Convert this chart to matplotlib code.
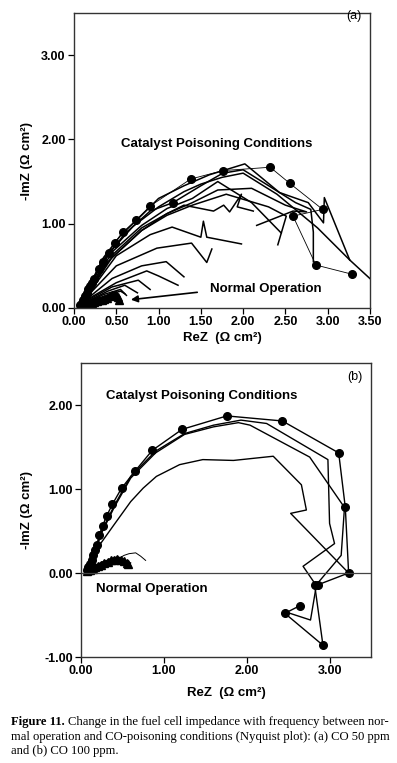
import matplotlib
matplotlib.use("Agg")
import matplotlib.pyplot as plt

# --- panel (a): CO 50 ppm ---
a_dots_x = [0.07, 0.09, 0.11, 0.13, 0.15, 0.17, 0.19, 0.21, 0.24, 0.29, 0.34, 0.41, 0.48, 0.58,
            0.73, 0.90, 1.38, 1.76, 2.32, 2.55, 2.94, 2.59, 2.86, 3.29]
a_dots_y = [0.04, 0.06, 0.10, 0.14, 0.18, 0.22, 0.26, 0.30, 0.35, 0.46, 0.55, 0.65, 0.77, 0.90,
            1.04, 1.21, 1.53, 1.63, 1.67, 1.48, 1.17, 1.09, 0.51, 0.40]

a_c1_x = [0.12, 0.20, 0.35, 0.55, 0.80, 1.00, 1.30, 1.60, 2.02, 2.43, 2.77, 2.95, 2.96, 3.26, 3.52]
a_c1_y = [0.10, 0.30, 0.60, 0.86, 1.10, 1.30, 1.45, 1.58, 1.71, 1.37, 1.25, 1.01, 1.31, 0.57, 0.33]
a_c2_x = [0.12, 0.30, 0.60, 0.90, 1.17, 1.50, 1.76, 2.00, 2.35, 2.62, 2.80, 2.83, 2.83]
a_c2_y = [0.10, 0.50, 0.88, 1.15, 1.25, 1.45, 1.60, 1.64, 1.42, 1.25, 1.17, 0.90, 0.55]
a_c3_x = [0.12, 0.35, 0.70, 1.00, 1.30, 1.50, 1.75, 2.00, 2.40, 2.88, 3.26]
a_c3_y = [0.10, 0.58, 0.97, 1.20, 1.38, 1.47, 1.55, 1.60, 1.35, 0.95, 0.57]
a_c4_x = [0.12, 0.40, 0.80, 1.10, 1.40, 1.70, 2.10, 2.45]
a_c4_y = [0.10, 0.62, 0.98, 1.18, 1.30, 1.50, 1.25, 0.89]
a_c5_x = [0.12, 0.40, 0.80, 1.10, 1.40, 1.70, 2.10, 2.50, 2.75, 2.59, 2.16]
a_c5_y = [0.10, 0.58, 0.95, 1.12, 1.25, 1.40, 1.42, 1.22, 1.14, 1.15, 0.98]
a_c6_x = [0.12, 0.45, 0.80, 1.10, 1.40, 1.80, 2.30, 2.51, 2.41]
a_c6_y = [0.10, 0.60, 0.92, 1.10, 1.22, 1.35, 1.20, 1.09, 0.75]
a_c7_x = [0.12, 0.40, 0.80, 1.10, 1.30, 1.65, 1.77, 1.84, 1.98, 1.93, 2.12]
a_c7_y = [0.10, 0.55, 0.92, 1.12, 1.22, 1.15, 1.22, 1.14, 1.35, 1.20, 1.15]
a_c8_x = [0.12, 0.50, 0.90, 1.16, 1.50, 1.53, 1.57, 1.98]
a_c8_y = [0.10, 0.62, 0.87, 0.96, 0.84, 1.03, 0.84, 0.76]
a_c9_x = [0.12, 0.50, 0.98, 1.39, 1.57, 1.63]
a_c9_y = [0.10, 0.50, 0.71, 0.77, 0.54, 0.70]
a_c10_x = [0.12, 0.45, 0.80, 1.09, 1.30]
a_c10_y = [0.08, 0.35, 0.50, 0.55, 0.37]
a_c11_x = [0.12, 0.50, 0.86, 1.00, 1.23]
a_c11_y = [0.08, 0.30, 0.44, 0.38, 0.27]
a_c12_x = [0.12, 0.45, 0.76, 0.90]
a_c12_y = [0.07, 0.25, 0.33, 0.22]
a_c13_x = [0.12, 0.40, 0.60, 0.75]
a_c13_y = [0.06, 0.20, 0.27, 0.18]
a_c14_x = [0.12, 0.35, 0.55, 0.62]
a_c14_y = [0.05, 0.16, 0.22, 0.15]

a_norm_x = [0.07, 0.08, 0.10, 0.12, 0.15, 0.18, 0.21, 0.24, 0.27, 0.30, 0.33, 0.36, 0.39,
            0.42, 0.45, 0.48, 0.50, 0.52, 0.53]
a_norm_y = [0.01, 0.02, 0.02, 0.03, 0.04, 0.05, 0.06, 0.07, 0.08, 0.09, 0.10, 0.11, 0.12,
            0.14, 0.15, 0.16, 0.15, 0.13, 0.10]
a_norm2_x = [0.12, 0.30, 0.45, 0.55, 0.60]
a_norm2_y = [0.05, 0.12, 0.17, 0.20, 0.17]

# --- panel (b): CO 100 ppm ---
b_dots_x = [0.07, 0.09, 0.11, 0.13, 0.15, 0.17, 0.19, 0.22, 0.26, 0.31, 0.38, 0.49, 0.65, 0.86,
            1.22, 1.76, 2.43, 3.11, 3.19, 3.23, 2.86, 2.82, 2.92, 2.46, 2.64]
b_dots_y = [0.04, 0.07, 0.11, 0.16, 0.21, 0.27, 0.33, 0.45, 0.56, 0.68, 0.82, 1.01, 1.21, 1.46,
            1.71, 1.87, 1.81, 1.43, 0.78, 0.00, -0.14, -0.14, -0.86, -0.48, -0.39]

b_c1_x = [0.08, 0.15, 0.25, 0.40, 0.60, 0.90, 1.25, 1.60, 1.93, 2.24, 2.98, 3.00, 3.06, 2.68,
          2.84, 2.77, 2.46]
b_c1_y = [0.03, 0.20, 0.50, 0.80, 1.15, 1.45, 1.66, 1.76, 1.82, 1.78, 1.35, 0.59, 0.35, 0.08,
          -0.15, -0.56, -0.46]
b_c2_x = [0.08, 0.15, 0.25, 0.40, 0.60, 0.90, 1.25, 1.60, 1.90, 2.04, 2.76, 3.18, 3.14, 2.84]
b_c2_y = [0.03, 0.20, 0.48, 0.78, 1.13, 1.43, 1.65, 1.74, 1.79, 1.76, 1.38, 0.78, 0.21, -0.14]
b_c3_x = [0.08, 0.20, 0.41, 0.60, 0.75, 0.91, 1.19, 1.47, 1.84, 2.32, 2.66, 2.72, 2.53, 3.23]
b_c3_y = [0.03, 0.30, 0.59, 0.85, 1.01, 1.15, 1.29, 1.35, 1.34, 1.39, 1.05, 0.75, 0.71, 0.00]

b_norm_x = [0.07, 0.09, 0.11, 0.14, 0.17, 0.20, 0.24, 0.28, 0.32, 0.36, 0.40, 0.44, 0.48,
            0.52, 0.55, 0.57]
b_norm_y = [0.02, 0.03, 0.04, 0.05, 0.07, 0.08, 0.10, 0.12, 0.13, 0.15, 0.16, 0.17, 0.16,
            0.14, 0.12, 0.11]
b_tail_x = [0.45, 0.52, 0.58, 0.66, 0.72, 0.78]
b_tail_y = [0.17, 0.21, 0.23, 0.24, 0.20, 0.15]

SANS = ["Liberation Sans", "DejaVu Sans"]
SERIF = ["Liberation Serif", "DejaVu Serif"]
plt.rcParams["font.family"] = SANS


def style_axes(ax, xticks, yticks, xlim, ylim):
    ax.set_xlim(*xlim)
    ax.set_ylim(*ylim)
    ax.set_xticks(xticks)
    ax.set_yticks(yticks)
    ax.set_xticklabels([f"{v:.2f}" for v in xticks], fontweight="bold", fontsize=9)
    ax.set_yticklabels([f"{v:.2f}" for v in yticks], fontweight="bold", fontsize=9)
    ax.tick_params(direction="out", length=4, width=0.9, pad=2)
    for s in ax.spines.values():
        s.set_linewidth(1.0)
        s.set_color("#333333")
    ax.set_xlabel("ReZ  (Ω cm²)", fontweight="bold", fontsize=9.5)
    ax.set_ylabel("-ImZ (Ω cm²)", fontweight="bold", fontsize=9.5)


fig = plt.figure(figsize=(3.97, 7.63), dpi=100)
ax1 = fig.add_axes([74 / 397, 1 - 308 / 763, 296 / 397, 295 / 763])
ax2 = fig.add_axes([81 / 397, 1 - 657 / 763, 290 / 397, 294 / 763])

# panel (a)
for cx, cy in [(a_c1_x, a_c1_y), (a_c3_x, a_c3_y), (a_c4_x, a_c4_y), (a_c5_x, a_c5_y),
               (a_c6_x, a_c6_y), (a_c7_x, a_c7_y), (a_c8_x, a_c8_y), (a_c9_x, a_c9_y),
               (a_c10_x, a_c10_y), (a_c11_x, a_c11_y), (a_c12_x, a_c12_y),
               (a_c13_x, a_c13_y), (a_c14_x, a_c14_y), (a_norm2_x, a_norm2_y)]:
    ax1.plot(cx, cy, color="k", lw=1.1)
ax1.plot(a_c2_x, a_c2_y, color="k", lw=1.1, marker="o", ms=5.5, markevery=[4])
ax1.plot(a_dots_x, a_dots_y, color="k", lw=0.6, marker="o", ms=5.5)
ax1.plot(a_norm_x, a_norm_y, color="k", lw=3.5, marker="^", ms=5.5)

ax1.text(1.69, 1.94, "Catalyst Poisoning Conditions", ha="center", va="center",
         fontweight="bold", fontsize=9.5)
ax1.annotate("", xy=(0.64, 0.095), xytext=(1.49, 0.19),
             arrowprops=dict(arrowstyle="-|>", lw=1.2, color="k", mutation_scale=10))
ax1.text(1.61, 0.22, "Normal Operation", ha="left", va="center",
         fontweight="bold", fontsize=9.5)
ax1.text(3.31, 3.46, "(a)", ha="center", va="center", fontsize=9)
style_axes(ax1, [0, 0.5, 1.0, 1.5, 2.0, 2.5, 3.0, 3.5], [0, 1.0, 2.0, 3.0], (0, 3.5), (0, 3.5))
ax1.yaxis.set_label_coords(-0.139, 0.5)
ax1.xaxis.labelpad = 3

# panel (b)
for cx, cy in [(b_c1_x, b_c1_y), (b_c2_x, b_c2_y), (b_c3_x, b_c3_y)]:
    ax2.plot(cx, cy, color="k", lw=1.0)
ax2.plot(b_dots_x, b_dots_y, color="k", lw=1.0, marker="o", ms=5.5)
ax2.plot(b_tail_x, b_tail_y, color="k", lw=0.7)
ax2.plot(b_norm_x, b_norm_y, color="k", lw=3.5, marker="^", ms=5.5)
ax2.axhline(0, color="#444444", lw=0.9)

ax2.text(0.30, 2.11, "Catalyst Poisoning Conditions", ha="left", va="center",
         fontweight="bold", fontsize=9.5)
ax2.text(0.18, -0.19, "Normal Operation", ha="left", va="center",
         fontweight="bold", fontsize=9.5)
ax2.text(3.30, 2.33, "(b)", ha="center", va="center", fontsize=9)
style_axes(ax2, [0, 1.0, 2.0, 3.0], [-1.0, 0, 1.0, 2.0], (0, 3.5), (-1.0, 2.5))
ax2.yaxis.set_label_coords(-0.166, 0.5)
ax2.xaxis.labelpad = 7

# caption
CAP = 9.1
r = fig.canvas.get_renderer()
t = fig.text(11 / 397, 1 - 722 / 763, "Figure 11.", fontweight="bold", fontsize=CAP,
             family=SERIF, va="center")
bb = t.get_window_extent(renderer=r)
fig.text((bb.x1 + 3) / 397, 1 - 722 / 763,
         "Change in the fuel cell impedance with frequency between nor-",
         fontsize=CAP, family=SERIF, va="center")
fig.text(11 / 397, 1 - 737 / 763,
         "mal operation and CO-poisoning conditions (Nyquist plot): (a) CO 50 ppm",
         fontsize=CAP, family=SERIF, va="center")
fig.text(11 / 397, 1 - 751 / 763, "and (b) CO 100 ppm.", fontsize=CAP, family=SERIF, va="center")

fig.savefig("out.png", dpi=100)
